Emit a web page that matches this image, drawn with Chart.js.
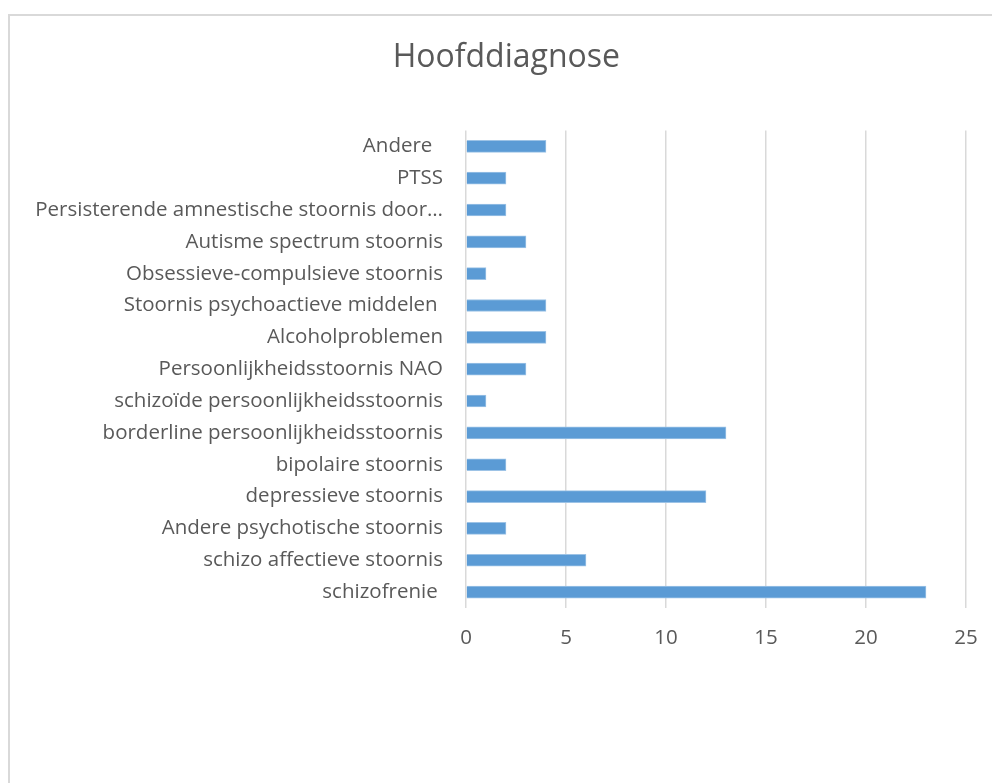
<!DOCTYPE html>
<html>
<head>
<meta charset="utf-8">
<script src="https://cdn.jsdelivr.net/npm/chart.js@4"></script>
<style>
  html, body { margin: 0; padding: 0; overflow: hidden; background: #fff; }
  #frame {
    position: absolute; left: 8px; top: 14px;
    width: 1100px; height: 900px;
    border: 2px solid #d9d9d9;
  }
  #wrap { position: absolute; left: 0; top: 0; width: 992px; height: 783px; }
</style>
</head>
<body>
<div id="frame"></div>
<div id="wrap"><canvas id="diagChart" width="992" height="783"></canvas></div>
<script>
// categories, top to bottom as shown
const diagnoses = [
  'Andere  ',
  'PTSS',
  'Persisterende amnestische stoornis door\u2026',
  'Autisme spectrum stoornis',
  'Obsessieve-compulsieve stoornis',
  'Stoornis psychoactieve middelen ',
  'Alcoholproblemen',
  'Persoonlijkheidsstoornis NAO',
  'schizo\u00efde persoonlijkheidsstoornis',
  'borderline persoonlijkheidsstoornis',
  'bipolaire stoornis',
  'depressieve stoornis',
  'Andere psychotische stoornis',
  'schizo affectieve stoornis',
  'schizofrenie '
];
const counts = [4, 2, 2, 3, 1, 4, 4, 3, 1, 13, 2, 12, 2, 6, 23];

const labelFont = { family: "'Open Sans', sans-serif", size: 20.5 };
const textColor = '#595959';

const ctx = document.getElementById('diagChart').getContext('2d');

new Chart(ctx, {
  type: 'bar',
  data: {
    labels: diagnoses,
    datasets: [{
      data: counts,
      backgroundColor: '#5b9bd5',
      borderColor: '#9dc3e6',
      borderWidth: 1,
      barThickness: 12
    }]
  },
  options: {
    indexAxis: 'y',
    responsive: false,
    animation: false,
    layout: { padding: { left: 30, right: 26, top: 0, bottom: 125 } },
    plugins: {
      legend: { display: false },
      tooltip: { enabled: false },
      title: {
        display: true,
        // two no-break spaces nudge the centred title to the right, like the original
        text: '\u00a0\u00a0Hoofddiagnose',
        color: textColor,
        font: { family: "'Open Sans', sans-serif", size: 32, weight: 'normal', lineHeight: 1.2 },
        padding: { top: 39, bottom: 53 }
      }
    },
    scales: {
      x: {
        min: 0,
        max: 25,
        ticks: { stepSize: 5, color: textColor, font: labelFont, padding: 0 },
        grid: { color: '#d9d9d9', lineWidth: 1.5, drawTicks: true, tickLength: 18, tickColor: 'rgba(0,0,0,0)' },
        border: { display: false },
        afterFit: (s) => { s.height = 50; }
      },
      y: {
        ticks: { color: textColor, font: labelFont, padding: 23, autoSkip: false },
        grid: { display: false, drawTicks: false },
        border: { display: false },
        afterFit: (s) => { s.width = 436; }
      }
    }
  }
});
</script>
</body>
</html>
